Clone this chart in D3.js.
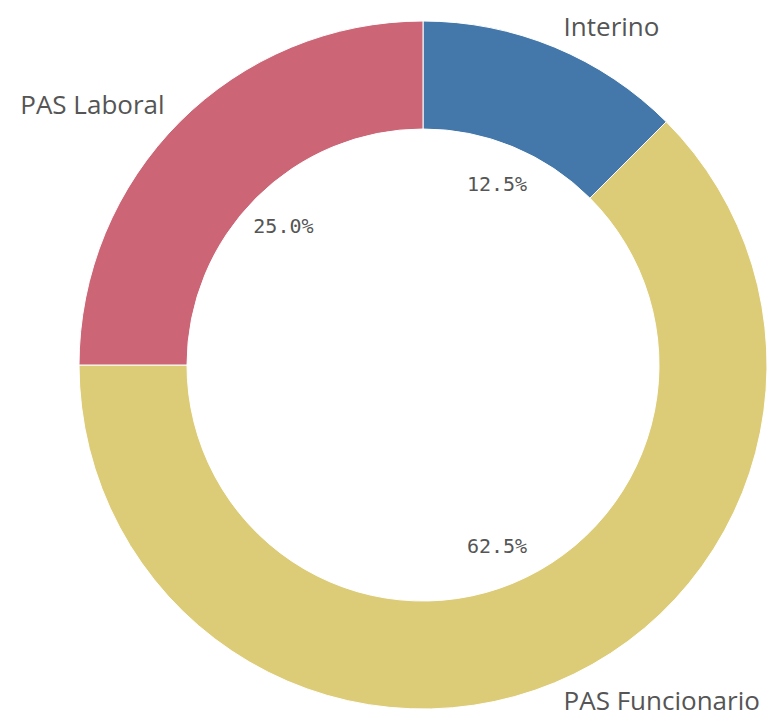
<!DOCTYPE html>
<html><head><meta charset="utf-8">
<script src="https://cdn.jsdelivr.net/npm/d3@7"></script>
<style>body{margin:0;background:#fff}svg{display:block}</style>
</head><body>
<svg id="c" width="767" height="719"></svg>
<script>
const categories = ["Interino", "PAS Funcionario", "PAS Laboral"];
const values = [12.5, 62.5, 25.0];
const colors = ["#4477aa", "#ddcc77", "#cc6677"];

const W = 767, H = 719, cx = 423, cy = 365, rOuter = 344, rInner = 236;
const svg = d3.select("#c");
const g = svg.append("g").attr("transform", `translate(${cx},${cy})`);

const pie = d3.pie().sort(null).value(d => d.v);
const data = pie(categories.map((c, i) => ({c, v: values[i], col: colors[i]})));
const arc = d3.arc().innerRadius(rInner).outerRadius(rOuter);

g.selectAll("path.s").data(data).join("path")
  .attr("class", "s")
  .attr("d", arc)
  .attr("fill", d => d.data.col)
  .attr("stroke", "#fff").attr("stroke-width", 1);

const fmt = d3.format(".1f");
const mid = d => (d.startAngle + d.endAngle) / 2;

g.selectAll("text.p").data(data).join("text")
  .attr("class", "p")
  .attr("x", d => 196 * Math.sin(mid(d)) - 1)
  .attr("y", d => -196 * Math.cos(mid(d)))
  .attr("text-anchor", "middle")
  .attr("dominant-baseline", "central")
  .attr("font-family", "DejaVu Sans Mono, monospace")
  .attr("font-size", 20)
  .attr("fill", "#555")
  .text(d => fmt(d.data.v) + "%");

g.selectAll("text.l").data(data).join("text")
  .attr("class", "l")
  .each(function(d) {
    const a = mid(d), r = rOuter + 13;
    const px = r * Math.sin(a), py = -r * Math.cos(a);
    const right = Math.sin(a) >= 0;
    const t = d3.select(this)
      .attr("x", px + (right ? 4 : -6))
      .attr("text-anchor", right ? "start" : "end");
    if (py < 0) t.attr("y", py + 1);
    else t.attr("y", py + 5).attr("dominant-baseline", "central");
  })
  .attr("font-family", "Open Sans, sans-serif")
  .attr("font-size", 26)
  .attr("fill", "#555")
  .text(d => d.data.c);
</script>
</body></html>
